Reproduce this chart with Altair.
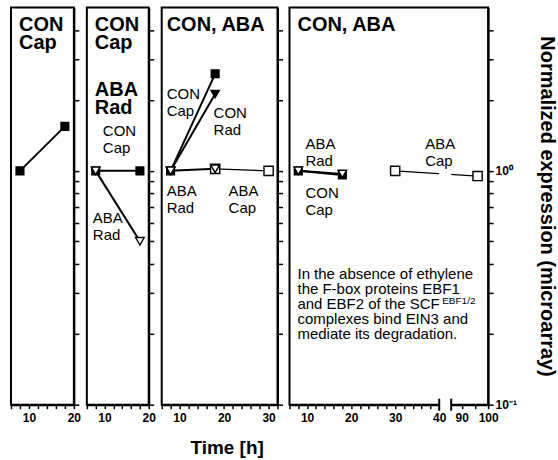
import altair as alt
import pandas as pd

# ---------------- data ----------------
p1_time = [8, 18]
p1_con_cap = [1.0, 1.55]

p2_time = [8, 18]
p2_con_cap = [1.0, 1.0]
p2_aba_rad = [1.0, 0.50]

p3_time = [8, 18]
p3_con_cap = [1.0, 2.6]
p3_con_rad = [1.0, 2.13]
p3_aba_rad = [1.0, 1.02]
p3_aba_cap_time = [18, 30]
p3_aba_cap = [1.02, 1.0]

p4_time = [8, 18]
p4_con_cap = [1.0, 0.96]
p4_aba_rad = [1.0, 0.97]
p4_aba_cap_time = [30, 96]
p4_aba_cap = [1.0, 0.95]

y_tick_values = [0.1, 0.2, 0.3, 0.4, 0.5, 0.6, 0.7, 0.8, 0.9, 1, 2, 3, 4]
y_domain = [0.1, 5]
x_ticks_short = list(range(6, 21, 2))
x_ticks_p3 = list(range(6, 33, 2))
x_ticks_p4_left = list(range(6, 41, 2))
x_ticks_p4_right = [90, 95, 100]
p4_left_range = [6, 40]
p4_right_range = [86, 100]
break_edges = [40, 86]
break_band = [0.9, 1.1]

panel_titles = ["CON\nCap", "CON\nCap", "ABA\nRad", "CON, ABA", "CON, ABA"]
series_labels = ["CON\nCap", "ABA\nRad", "CON\nRad", "ABA\nCap"]
note_lines = ["In the absence of ethylene", "the F-box proteins EBF1",
              "and EBF2 of the SCF", "complexes bind EIN3 and",
              "mediate its degradation."]
note_sup = "EBF1/2"
x_title = "Time [h]"
y_title = "Normalized expression (microarray)"

# ---------------- style / layout ----------------
FONT = "Liberation Sans, Arial, Helvetica, sans-serif"
H = 398
W4 = 199
LEFT_PX, GAP_PX, RIGHT_PX = 150, 12, 37
STYLES = {
    "CON Cap": dict(shape="square", filled=True, size=60, lw=2.0),
    "CON Rad": dict(shape="triangle-down", filled=True, size=70, lw=2.0),
    "ABA Cap": dict(shape="square", filled=False, size=85, lw=1.3),
    "ABA Rad": dict(shape="triangle-down", filled=False, size=75, lw=2.0),
}
ORDER = ["CON Cap", "ABA Cap", "CON Rad", "ABA Rad"]
dummy = pd.DataFrame({"a": [0]})

yscale = alt.Scale(type="log", domain=y_domain, nice=False)

# broken time axis of the last panel: left part 6-40, right part 86-100 compressed
ppu = LEFT_PX / (p4_left_range[1] - p4_left_range[0])
k = (RIGHT_PX / (p4_right_range[1] - p4_right_range[0])) / ppu
gap = GAP_PX / ppu
L, R0 = p4_left_range[1], p4_right_range[0]
broken_expr = f"datum.time <= {L} ? datum.time : {L} + {gap} + (datum.time - {R0}) * {k}"
p4_x_max = L + gap + (p4_right_range[1] - R0) * k
p4_tick_pos = x_ticks_p4_left + [L + gap + (v - R0) * k for v in x_ticks_p4_right]
p4_label_expr = (f"datum.value > {L + 0.5} ? "
                 f"(round({R0} + (datum.value - {L} - {gap}) / {k}) % 10 === 0 ? "
                 f"'' + round({R0} + (datum.value - {L} - {gap}) / {k}) : '') : "
                 f"(datum.value % 10 === 0 && datum.value >= 10 ? datum.label : '')")
std_label_expr = "datum.value % 10 === 0 && datum.value >= 10 ? datum.label : ''"


def y_axis(labels=False):
    if labels:
        return alt.Axis(orient="right", values=y_tick_values, tickSize=5, grid=False,
                        labelExpr="datum.value == 1 ? '10⁰' : (datum.value == 0.1 ? '10⁻¹' : '')",
                        labelFontSize=12, labelFontWeight="bold", labelPadding=2,
                        title=y_title, titleFontSize=20, titleFontWeight="bold",
                        titleFont=FONT, titleAngle=90, titleX=58, titleY=H / 2,
                        titleAlign="center", titleBaseline="middle", labelOverlap=False)
    return alt.Axis(orient="right", values=y_tick_values, tickSize=5, grid=False,
                    labels=False, title=None, minExtent=0)


def x_axis(values, label_expr, title=None):
    kw = dict(values=values, tickSize=4, grid=False, labelFlush=False, labelOverlap=False,
              labelExpr=label_expr, labelPadding=4, labelFontSize=12,
              labelFontWeight="bold", zindex=0)
    if title:
        return alt.Axis(title=title, titleFontSize=19, titleFontWeight="bold", titleFont=FONT,
                        titleX=65, titleY=49, titleAlign="center", titleBaseline="alphabetic", **kw)
    return alt.Axis(title=None, **kw)


def txt(text, x, y, size=15, bold=False, lh=17):
    return alt.Chart(dummy).mark_text(
        text=text, align="left", baseline="alphabetic", font=FONT, fontSize=size,
        fontWeight="bold" if bold else "normal", color="black", lineBreak="\n", lineHeight=lh
    ).encode(x=alt.value(x), y=alt.value(y))


def panel(series, width, xscale, xaxis, texts, yaxis, calc="datum.time", extra=None):
    xe = alt.X("tx:Q", scale=xscale, axis=xaxis)
    ye = alt.Y("value:Q", scale=yscale, axis=yaxis)
    frames = {name: pd.DataFrame({"time": t, "value": v}) for name, t, v in series}
    layers = []
    for name in ORDER:
        if name in frames:
            layers.append(alt.Chart(frames[name]).transform_calculate(tx=calc).mark_line(
                color="black", strokeWidth=STYLES[name]["lw"]).encode(x=xe, y=ye))
    if extra:
        layers += extra(xe, ye)
    for name in ORDER:
        if name in frames:
            s = STYLES[name]
            layers.append(alt.Chart(frames[name]).transform_calculate(tx=calc).mark_point(
                shape=s["shape"], size=s["size"], filled=True, opacity=1,
                fill="black" if s["filled"] else "white", stroke="black",
                strokeWidth=1.4).encode(x=xe, y=ye))
    layers += texts
    return alt.layer(*layers).properties(width=width, height=H)


short_scale = alt.Scale(domain=[6, 20], nice=False, zero=False)

p1 = panel([("CON Cap", p1_time, p1_con_cap)], 63, short_scale,
           x_axis(x_ticks_short, std_label_expr),
           [txt(panel_titles[0], 8, 24, 20, True, 18)], y_axis())

p2 = panel([("CON Cap", p2_time, p2_con_cap), ("ABA Rad", p2_time, p2_aba_rad)], 62,
           short_scale, x_axis(x_ticks_short, std_label_expr),
           [txt(panel_titles[1], 8, 24, 20, True, 18), txt(panel_titles[2], 8, 89, 20, True, 18),
            txt(series_labels[0], 16, 129), txt(series_labels[1], 6, 216)], y_axis())

p3 = panel([("CON Cap", p3_time, p3_con_cap), ("CON Rad", p3_time, p3_con_rad),
            ("ABA Rad", p3_time, p3_aba_rad), ("ABA Cap", p3_aba_cap_time, p3_aba_cap)], 116,
           alt.Scale(domain=[6, 32], nice=False, zero=False),
           x_axis(x_ticks_p3, std_label_expr, x_title),
           [txt(panel_titles[3], 5, 24, 20, True, 18),
            txt(series_labels[0], 5, 92), txt(series_labels[2], 52, 111),
            txt(series_labels[1], 5, 189), txt(series_labels[3], 67, 189)], y_axis())


def p4_extra(xe, ye):
    brk = pd.DataFrame({"time": [break_edges[0]], "t1": [break_edges[1]],
                        "value": [break_band[0]], "v1": [break_band[1]]})
    edges = pd.DataFrame({"time": break_edges})
    x1_expr = broken_expr.replace("datum.time", "datum.t1")
    return [
        alt.Chart(brk).transform_calculate(tx=broken_expr, tx1=x1_expr).mark_rect(fill="white").encode(
            x=xe, x2="tx1:Q", y=ye, y2="v1:Q"),
        alt.Chart(brk).transform_calculate(tx=broken_expr, tx1=x1_expr).mark_rect(fill="white").encode(
            x=xe, x2="tx1:Q", y=alt.value(H - 4), y2=alt.value(H + 8)),
        alt.Chart(edges).transform_calculate(tx=broken_expr).mark_rule(
            color="black", strokeWidth=2).encode(x=xe, y=alt.value(H - 6), y2=alt.value(H + 6)),
    ]


p4 = panel([("CON Cap", p4_time, p4_con_cap), ("ABA Rad", p4_time, p4_aba_rad),
            ("ABA Cap", p4_aba_cap_time, p4_aba_cap)], W4,
           alt.Scale(domain=[6, p4_x_max], nice=False, zero=False),
           x_axis(p4_tick_pos, p4_label_expr),
           [txt(panel_titles[4], 8, 24, 20, True, 18),
            txt(series_labels[1], 16, 142), txt(series_labels[0], 16, 191),
            txt(series_labels[3], 136, 142),
            txt("\n".join(note_lines), 8, 272, 15, False, 15),
            txt(note_sup, 153, 297, 10, False, 10)],
           y_axis(True), calc=broken_expr, extra=p4_extra)

chart = alt.hconcat(p1, p2, p3, p4, spacing=3).resolve_scale(
    x="independent", y="independent").resolve_axis(x="independent", y="independent").properties(
    padding={"left": 9, "top": 6, "right": 1, "bottom": 0}, background="white"
).configure_view(stroke="black", strokeWidth=2).configure_axis(
    domainColor="black", domainWidth=2, tickColor="black", tickWidth=1.5,
    labelColor="black", labelFont=FONT, titleColor="black"
)

chart.save("out.html", embed_options={"renderer": "svg", "actions": False})
